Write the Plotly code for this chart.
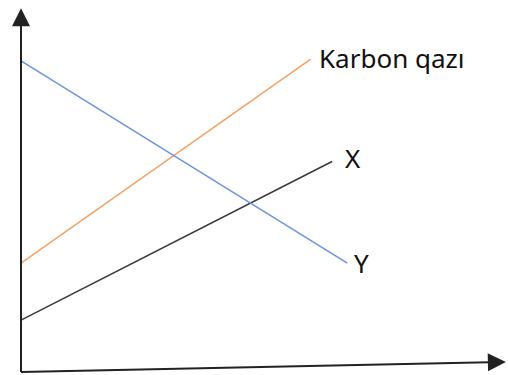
import plotly.graph_objects as go

# line end points in chart units (origin at the axis corner)
x_start = [0.0, 0.0, 0.0]
x_end = [9.5, 10.2, 10.7]
names = ["Karbon qazı", "X", "Y"]
y_start = [3.57, 1.7, 10.2]
y_end = [10.26, 6.9, 3.57]
colors = ["#F4A366", "#3a3a3a", "#6F95DC"]

# axis tips
y_axis_tip = 11.93
x_axis_tip = [15.9, 0.33]

fig = go.Figure()

for i in range(len(names)):
    fig.add_trace(go.Scatter(
        x=[x_start[i], x_end[i]], y=[y_start[i], y_end[i]],
        mode="lines", line=dict(color=colors[i], width=1.6),
        showlegend=False, hoverinfo="skip",
    ))

label_off = [(0.22, 0.02), (0.36, 0.13), (0.14, 0.0)]
for i in range(len(names)):
    fig.add_annotation(
        x=x_end[i] + label_off[i][0], y=y_end[i] + label_off[i][1],
        text=names[i], showarrow=False, xanchor="left", yanchor="middle",
        font=dict(family="Noto Sans", size=26, color="#111111"),
    )

# axes with arrowheads
fig.add_annotation(x=0, y=y_axis_tip, ax=0, ay=-0.05, xref="x", yref="y",
                   axref="x", ayref="y", showarrow=True, arrowhead=2,
                   arrowsize=1.8, arrowwidth=2, arrowcolor="#222222", text="")
fig.add_annotation(x=x_axis_tip[0], y=x_axis_tip[1], ax=-0.05, ay=0, xref="x", yref="y",
                   axref="x", ayref="y", showarrow=True, arrowhead=2,
                   arrowsize=1.8, arrowwidth=2, arrowcolor="#222222", text="")

fig.update_layout(
    width=508, height=375,
    margin=dict(l=0, r=0, t=0, b=0),
    plot_bgcolor="white", paper_bgcolor="white",
    xaxis=dict(range=[-0.689, 15.97], visible=False, fixedrange=True),
    yaxis=dict(range=[-0.098, 12.197], visible=False, fixedrange=True),
)

fig.write_html("out.html", config={"displayModeBar": False},
               post_script="document.body.style.margin='0';")
